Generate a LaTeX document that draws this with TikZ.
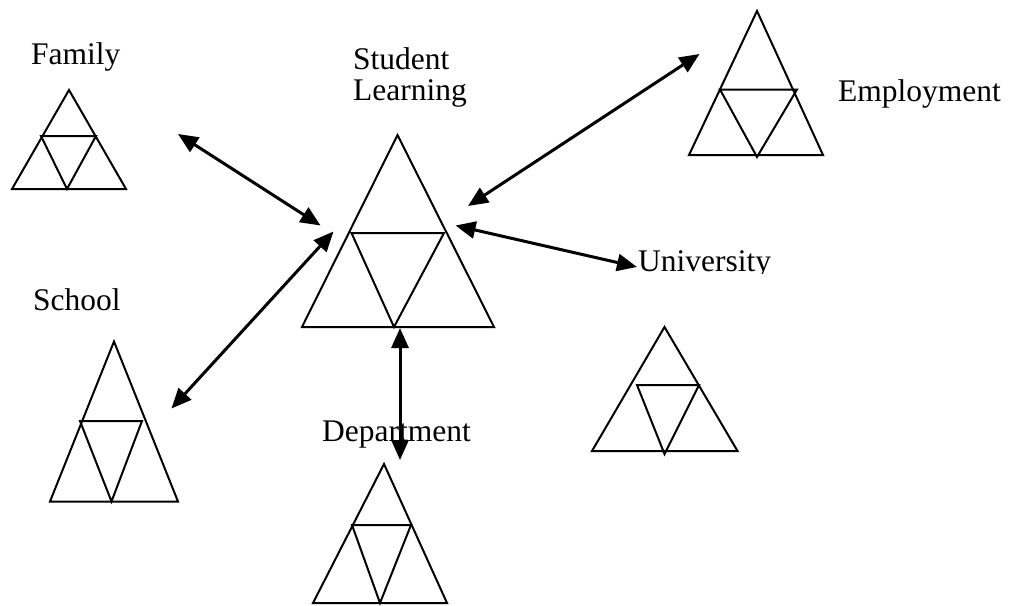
\documentclass[tikz,border=0pt]{standalone}
\usepackage{fontspec}
\setmainfont{Liberation Serif}
\usetikzlibrary{arrows.meta}
\begin{document}
\begin{tikzpicture}[x=1pt,y=-1pt,
  tri/.style={line width=2pt, line join=miter},
  link/.style={line width=3pt, {Triangle[length=20pt,width=17pt]}-{Triangle[length=20pt,width=17pt]}},
  lbl/.style={font=\fontsize{31.5}{30}\selectfont, inner sep=0pt, anchor=base west}]
\useasboundingbox (0,0) rectangle (1016,605);
% Family
\draw[tri] (12,189) -- (69,90) -- (126,189) -- cycle;
\draw[tri] (41,136) -- (96,136) -- (67,189) -- cycle;
% Student Learning
\draw[tri] (302,327) -- (397.5,135) -- (494,327) -- cycle;
\draw[tri] (351.5,233) -- (444,233) -- (394,327) -- cycle;
% Employment
\draw[tri] (689,155) -- (757,11) -- (823,155) -- cycle;
\draw[tri] (720,89.5) -- (797,89.5) -- (757,157) -- cycle;
% School
\draw[tri] (50,501.5) -- (114,341.5) -- (178,501.5) -- cycle;
\draw[tri] (80,421) -- (142,421) -- (111.5,501.5) -- cycle;
% Department
\draw[tri] (313,603) -- (384,464) -- (447,603) -- cycle;
\draw[tri] (352,525) -- (411,525) -- (380,603) -- cycle;
% University
\draw[tri] (592,451) -- (664.5,327) -- (737.5,451) -- cycle;
\draw[tri] (637,385) -- (699,385) -- (664.5,454) -- cycle;
% labels
\node[lbl] (family) at (31,64) {Family};
\node[lbl] (student) at (353,69) {Student};
\node[lbl] (learning) at (353,100) {Learning};
\node[lbl] (employment) at (838,101) {Employment};
\node[lbl] (school) at (33,310) {School};
\node[lbl] (department) at (322,441) {Department};
\begin{scope}
\clip (600,230) rectangle (800,273);
\node[lbl] (university) at (638,271) {University};
\end{scope}
% arrow endpoints
\coordinate (fa1) at (178,134);
\coordinate (fa2) at (320.5,225.5);
\coordinate (sa1) at (171.5,408.5);
\coordinate (sa2) at (333.5,231.5);
\coordinate (ea1) at (699.5,54);
\coordinate (ea2) at (468,206);
\coordinate (ua1) at (455.5,225.5);
\coordinate (ua2) at (637,267);
\coordinate (da1) at (400,328);
\coordinate (da2) at (400,460);
\draw[link] (fa1) -- (fa2);
\draw[link] (sa1) -- (sa2);
\draw[link] (ea1) -- (ea2);
\draw[link] (ua1) -- (ua2);
\draw[link] (da1) -- (da2);
\end{tikzpicture}
\end{document}
